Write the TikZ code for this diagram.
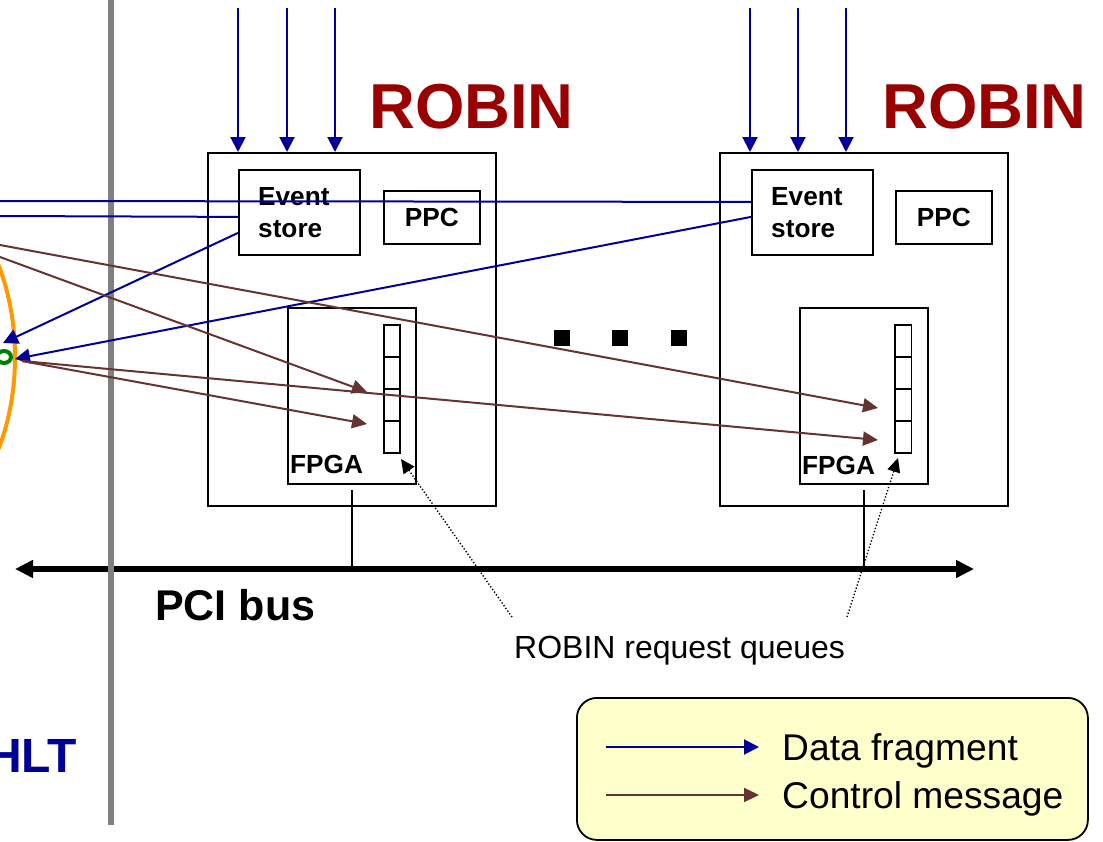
\documentclass[tikz,border=0pt]{standalone}
\usepackage{fontspec}
\setmainfont{Liberation Sans}
\usetikzlibrary{arrows.meta,calc}
\definecolor{dblue}{RGB}{0,0,153}
\definecolor{dbrown}{RGB}{102,51,51}
\definecolor{robinred}{RGB}{153,0,0}
\definecolor{legfill}{RGB}{255,255,204}
\definecolor{orng}{RGB}{255,153,0}
\definecolor{grn}{RGB}{0,128,0}
\definecolor{sepgray}{RGB}{128,128,128}
\begin{document}
\begin{tikzpicture}[x=1pt,y=-1pt,
  box/.style={draw=black,line width=1.8pt,inner sep=0pt,anchor=north west},
  lbl/.style={font=\fontsize{26.2}{32}\selectfont\bfseries,inner sep=0pt},
  robinlbl/.style={font=\fontsize{63.5}{70}\selectfont\bfseries,text=robinred,inner sep=0pt,anchor=base west},
  datarrow/.style={draw=dblue,line width=2pt,-{Triangle[length=15pt,width=15pt]}},
  dataline/.style={draw=dblue,line width=2pt},
  ctrlarrow/.style={draw=dbrown,line width=2pt,-{Triangle[length=15pt,width=14pt]}},
  pointer/.style={draw=black,line width=1.4pt,dash pattern=on 1.3pt off 2pt,-{Triangle[length=14pt,width=13pt]}},
  stem/.style={draw=black,line width=1.8pt},
  dots/.style={fill=black,inner sep=0pt,minimum size=16pt},
  legtext/.style={font=\fontsize{37.2}{40}\selectfont,inner sep=0pt,anchor=base west}
]
\useasboundingbox (0,0) rectangle (1103,841);
\clip (0,0) rectangle (1103,841);

% ROBIN boxes
\node[box,minimum width=288pt,minimum height=353pt] (robin1) at (207,152) {};
\node[box,minimum width=288pt,minimum height=353pt] (robin2) at (719,152) {};
\node[robinlbl] (rl1) at (369,128) {ROBIN};
\node[robinlbl] (rl2) at (882,128) {ROBIN};

% event stores
\node[box,minimum width=121pt,minimum height=85pt] (es1) at (238,169) {};
\node[box,minimum width=121pt,minimum height=85pt] (es2) at (751,169) {};
\node[lbl,align=left,anchor=west] (es1t) at ([xshift=20pt]es1.west) {Event\\store};
\node[lbl,align=left,anchor=west] (es2t) at ([xshift=20pt]es2.west) {Event\\store};

% PPC
\node[box,lbl,minimum width=96pt,minimum height=53pt] (ppc1) at (383,190) {PPC};
\node[box,lbl,minimum width=96pt,minimum height=53pt] (ppc2) at (895,190) {PPC};

% FPGA
\node[box,minimum width=128pt,minimum height=176pt] (fpga1) at (287,307) {};
\node[box,minimum width=128pt,minimum height=176pt] (fpga2) at (799,307) {};
\node[lbl,anchor=base west] (f1t) at ([xshift=3pt,yshift=11pt]fpga1.south west) {FPGA};
\node[lbl,anchor=base west] (f2t) at ([xshift=3pt,yshift=10pt]fpga2.south west) {FPGA};

% request queues
\foreach \i in {0,...,3} {
  \node[box,minimum width=16pt,minimum height=32pt] (qa\i) at (383,{324+32*\i}) {};
  \node[box,minimum width=16.5pt,minimum height=32pt] (qb\i) at (894,{324+32*\i}) {};
}

% dots
\node[dots] (d1) at (562,338) {};
\node[dots] (d2) at (620,338) {};
\node[dots] (d3) at (679,338) {};

% PCI bus
\coordinate (busL) at (15,569);
\coordinate (busR) at (974,569);
\draw[line width=5.8pt,{Triangle[length=18pt,width=17pt]}-{Triangle[length=18pt,width=17pt]}] (busL) -- (busR);
\draw[stem] ($(fpga1.south)+(0,5)$) -- (fpga1.south |- busL);
\draw[stem] ($(fpga2.south)+(0,5)$) -- (fpga2.south |- busL);
\node[font=\fontsize{43}{48}\selectfont\bfseries,inner sep=0pt,anchor=base west] (pci) at (155,620) {PCI bus};

% request queue label and pointers
\node[font=\fontsize{32}{36}\selectfont,inner sep=0pt,anchor=base west] (rq) at (514,658) {ROBIN request queues};
\coordinate (p1s) at (512,617);
\coordinate (p1e) at (401,459);
\coordinate (p2s) at (847,617);
\coordinate (p2e) at (898,458);
\draw[pointer] (p1s) -- (p1e);
\draw[pointer] (p2s) -- (p2e);

% separator
\draw[draw=sepgray,line width=6pt] (111,0) -- (111,825);

% left side (HLT)
\draw[draw=orng,line width=4pt] (-100,357) ellipse [x radius=115,y radius=178];
\draw[draw=grn,line width=4pt] (4,357) ellipse [x radius=7,y radius=6];
\node[font=\fontsize{48}{54}\selectfont\bfseries,text=dblue,inner sep=0pt,anchor=base east] (hlt) at (77,772) {HLT};

% input data arrows
\foreach \x in {238,287,335} {
  \coordinate (ta\x) at (\x,8);
  \draw[datarrow] (ta\x) -- (ta\x |- robin1.north);
}
\foreach \x in {750,798,846} {
  \coordinate (tb\x) at (\x,8);
  \draw[datarrow] (tb\x) -- (tb\x |- robin2.north);
}

% data fragments to the left
\coordinate (h1) at (0,201);
\coordinate (h2) at (0,216);
\coordinate (gs) at (22,361);
\coordinate (ga) at (3,343);
\coordinate (gb) at (15,359);
\draw[dataline] ($(es2.west)+(0,-10.5)$) -- (h1);
\draw[dataline] ($(es1.west)+(0,4.5)$) -- (h2);
\draw[datarrow] ($(es1.west)+(0,20.5)$) -- (ga);
\draw[datarrow] ($(es2.west)+(0,4.5)$) -- (gb);

% control messages
\coordinate (cA) at (0,245);
\coordinate (cB) at (0,257);
\coordinate (t1a) at (367,392);
\coordinate (t1b) at (367,424);
\coordinate (t2a) at (878,408);
\coordinate (t2b) at (878,440);
\draw[ctrlarrow] (cA) -- (t2a);
\draw[ctrlarrow] (cB) -- (t1a);
\draw[ctrlarrow] (gs) -- (t2b);
\draw[ctrlarrow] (gs) -- (t1b);

% legend
\node[draw=black,line width=1.8pt,fill=legfill,rounded corners=20pt,minimum width=511pt,minimum height=142pt,anchor=north west] (legend) at (576,697) {};
\coordinate (l1s) at (606,747);
\coordinate (l1e) at (759,747);
\coordinate (l2s) at (606,795);
\coordinate (l2e) at (759,795);
\draw[datarrow] (l1s) -- (l1e);
\draw[ctrlarrow] (l2s) -- (l2e);
\node[legtext] (lt1) at (782,760) {Data fragment};
\node[legtext] (lt2) at (782,808) {Control message};
\end{tikzpicture}
\end{document}
